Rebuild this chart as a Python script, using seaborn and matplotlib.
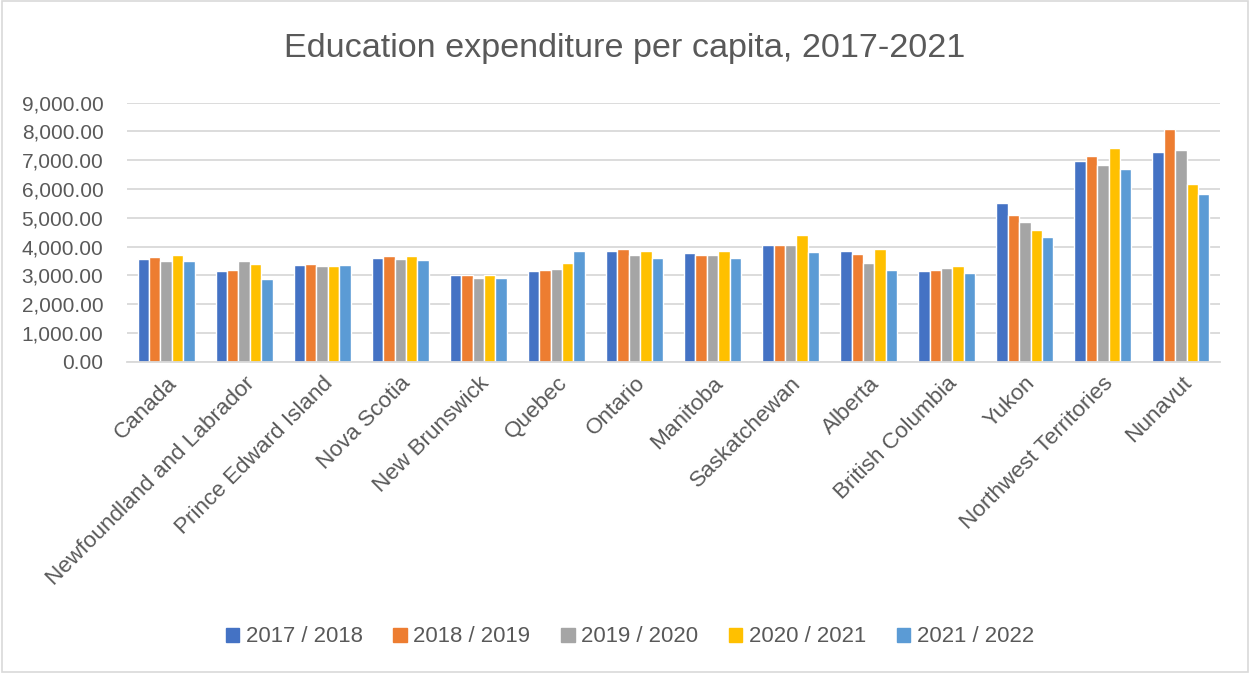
import matplotlib
matplotlib.use("Agg")
import matplotlib.pyplot as plt
import seaborn as sns
import pandas as pd
from matplotlib.ticker import FuncFormatter, MultipleLocator
from matplotlib.patches import Rectangle

provinces = ["Canada", "Newfoundland and Labrador", "Prince Edward Island", "Nova Scotia",
             "New Brunswick", "Quebec", "Ontario", "Manitoba", "Saskatchewan", "Alberta",
             "British Columbia", "Yukon", "Northwest Territories", "Nunavut"]
years = ["2017 / 2018", "2018 / 2019", "2019 / 2020", "2020 / 2021", "2021 / 2022"]

v2017 = [3580, 3152, 3360, 3592, 3013, 3163, 3847, 3789, 4044, 3835, 3163, 5516, 6976, 7289]
v2018 = [3627, 3187, 3384, 3673, 3001, 3187, 3917, 3708, 4056, 3754, 3198, 5110, 7138, 8100]
v2019 = [3500, 3488, 3337, 3580, 2920, 3210, 3696, 3708, 4044, 3441, 3268, 4867, 6848, 7358]
v2020 = [3708, 3395, 3314, 3673, 3024, 3418, 3847, 3859, 4392, 3917, 3326, 4565, 7416, 6176]
v2021 = [3500, 2874, 3349, 3523, 2920, 3859, 3592, 3615, 3824, 3187, 3071, 4345, 6709, 5840]

colors = ["#4472C4", "#ED7D31", "#A5A5A5", "#FFC000", "#5B9BD5"]

rows = []
for yr, vals in zip(years, [v2017, v2018, v2019, v2020, v2021]):
    for p, v in zip(provinces, vals):
        rows.append({"Province": p, "Year": yr, "Value": v})
df = pd.DataFrame(rows)

sns.set_style("white")
plt.rcParams["font.family"] = ["Liberation Sans", "DejaVu Sans"]
text_color = "#595959"

fig = plt.figure(figsize=(12.5, 6.73), dpi=100)
ax = fig.add_axes([0.1016, 0.4626, 0.8744, 0.3848])

sns.barplot(data=df, x="Province", y="Value", hue="Year", hue_order=years,
            order=provinces, palette=colors, width=0.73, saturation=1,
            edgecolor="white", linewidth=1.0, errorbar=None, ax=ax)

ax.set_ylim(0, 9000)
ax.set_xlim(-0.5, len(provinces) - 0.5)
ax.yaxis.set_major_locator(MultipleLocator(1000))
ax.yaxis.set_major_formatter(FuncFormatter(lambda v, p: f"{v:,.2f}"))
ax.grid(axis="y", color="#D9D9D9", linewidth=1.3)
ax.set_axisbelow(True)
for s in ["top", "right", "left"]:
    ax.spines[s].set_visible(False)
ax.spines["bottom"].set_color("#D9D9D9")
ax.spines["bottom"].set_linewidth(1.3)
ax.set_xlabel("")
ax.set_ylabel("")
ax.tick_params(axis="both", length=0, colors=text_color)
ax.tick_params(axis="y", labelsize=15, pad=17)
ax.tick_params(axis="x", labelsize=16.2, pad=8)
for lbl in ax.get_xticklabels():
    lbl.set_rotation(45)
    lbl.set_ha("right")
    lbl.set_rotation_mode("anchor")

ax.legend_.remove()
handles = [Rectangle((0, 0), 1, 1, color=c) for c in colors]
fig.legend(handles, years, loc="center", bbox_to_anchor=(0.504, 1 - 637 / 673), ncol=5,
           frameon=False, fontsize=15.9, labelcolor=text_color, handlelength=0.6,
           handleheight=0.6, handletextpad=0.3, columnspacing=1.4)

fig.text(0.5, 1 - 48 / 673, "Education expenditure per capita, 2017-2021",
         ha="center", va="center", fontsize=24.6, color=text_color)

fig.patches.append(Rectangle((0.0015, 0.0015), 0.997, 0.997, transform=fig.transFigure,
                             fill=False, edgecolor="#D9D9D9", linewidth=1.2))

fig.savefig("out.png", dpi=100)
